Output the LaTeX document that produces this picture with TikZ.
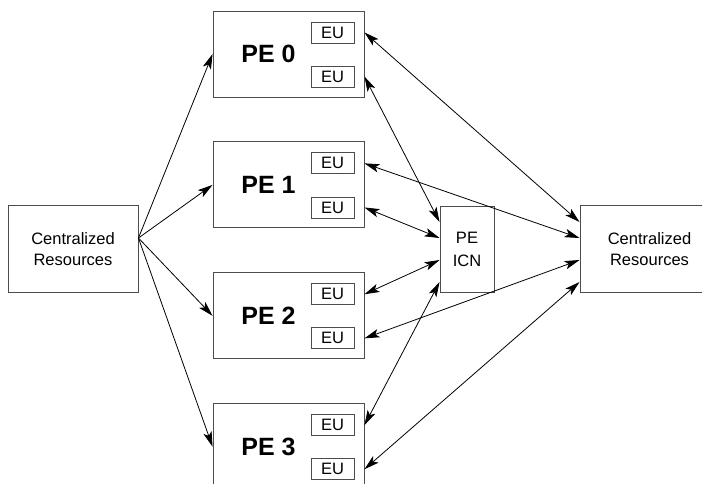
\documentclass[tikz,border=0pt]{standalone}
\usepackage{fontspec}
\setsansfont{Liberation Sans}
\usetikzlibrary{positioning, calc, arrows.meta}

\begin{document}
\begin{tikzpicture}[
        x=1pt, y=-1pt,
        font=\sffamily\fontsize{16.5}{21}\selectfont,
        resource/.style={rectangle, draw=black!70, line width=0.9pt, align=center, minimum width=130pt, minimum height=87pt},
        pe/.style={rectangle, draw=black!70, line width=0.9pt, minimum width=151pt, minimum height=86pt},
        pename/.style={font=\sffamily\bfseries\fontsize{25}{30}\selectfont},
        eu/.style={rectangle, draw=black!70, line width=0.8pt, inner sep=0pt, minimum width=43pt, minimum height=21pt},
        icnbox/.style={rectangle, draw=black!70, line width=0.9pt, align=center, minimum width=54pt, minimum height=86pt, font=\sffamily\fontsize{16.5}{23}\selectfont},
        arrow/.style={-{Stealth[length=15pt, width=8.5pt, inset=3.5pt]}, line width=0.8pt},
        biarrow/.style={{Stealth[length=15pt, width=8.5pt, inset=3.5pt]}-{Stealth[length=15pt, width=8.5pt, inset=3.5pt]}, line width=0.8pt}
    ]
    \clip (0,0) rectangle (702,483);

    % Nodes
    \node (res_left) [resource] at (73,249) {Centralized\\Resources};

    \node (pe0) [pe, label={[pename, xshift=-20pt]center:PE 0}] at (288.5,54) {};
    \node (pe1) [pe, below=44pt of pe0, label={[pename, xshift=-20pt]center:PE 1}] {};
    \node (pe2) [pe, below=44pt of pe1, label={[pename, xshift=-20pt]center:PE 2}] {};
    \node (pe3) [pe, below=44pt of pe2, label={[pename, xshift=-20pt]center:PE 3}] {};

    \node (eu0_top) [eu, below left=11pt and 10pt of pe0.north east] {EU};
    \node (eu0_bot) [eu, above left=10pt and 10pt of pe0.south east] {EU};
    \node (eu1_top) [eu, below left=11pt and 10pt of pe1.north east] {EU};
    \node (eu1_bot) [eu, above left=10pt and 10pt of pe1.south east] {EU};
    \node (eu2_top) [eu, below left=11pt and 10pt of pe2.north east] {EU};
    \node (eu2_bot) [eu, above left=10pt and 10pt of pe2.south east] {EU};
    \node (eu3_top) [eu, below left=11pt and 10pt of pe3.north east] {EU};
    \node (eu3_bot) [eu, above left=10pt and 10pt of pe3.south east] {EU};

    \node (icn) [icnbox] at (467,249) {PE\\ICN};
    \node (res_right) [resource, minimum width=139pt] at (649.5,249) {Centralized\\Resources};

    \coordinate (fan) at ([yshift=11pt]res_left.east);

    % Arrows
    \draw [arrow] (fan) -- (pe0.west);
    \draw [arrow] (fan) -- (pe1.west);
    \draw [arrow] (fan) -- (pe2.west);
    \draw [arrow] (fan) -- (pe3.west);

    \draw [biarrow] (eu0_top -| pe0.east) -- ([yshift=27pt]res_right.west);
    \draw [biarrow] (eu0_bot -| pe0.east) -- ([yshift=27pt]icn.west);
    \draw [biarrow] (eu1_top -| pe1.east) -- ([yshift=11pt]res_right.west);
    \draw [biarrow] (eu1_bot -| pe1.east) -- ([yshift=11pt]icn.west);
    \draw [biarrow] (eu2_top -| pe2.east) -- ([yshift=-11pt]icn.west);
    \draw [biarrow] (eu2_bot -| pe2.east) -- ([yshift=-11pt]res_right.west);
    \draw [biarrow] (eu3_top -| pe3.east) -- ([yshift=-33pt]icn.west);
    \draw [biarrow] (eu3_bot -| pe3.east) -- ([yshift=-33pt]res_right.west);

\end{tikzpicture}
\end{document}
